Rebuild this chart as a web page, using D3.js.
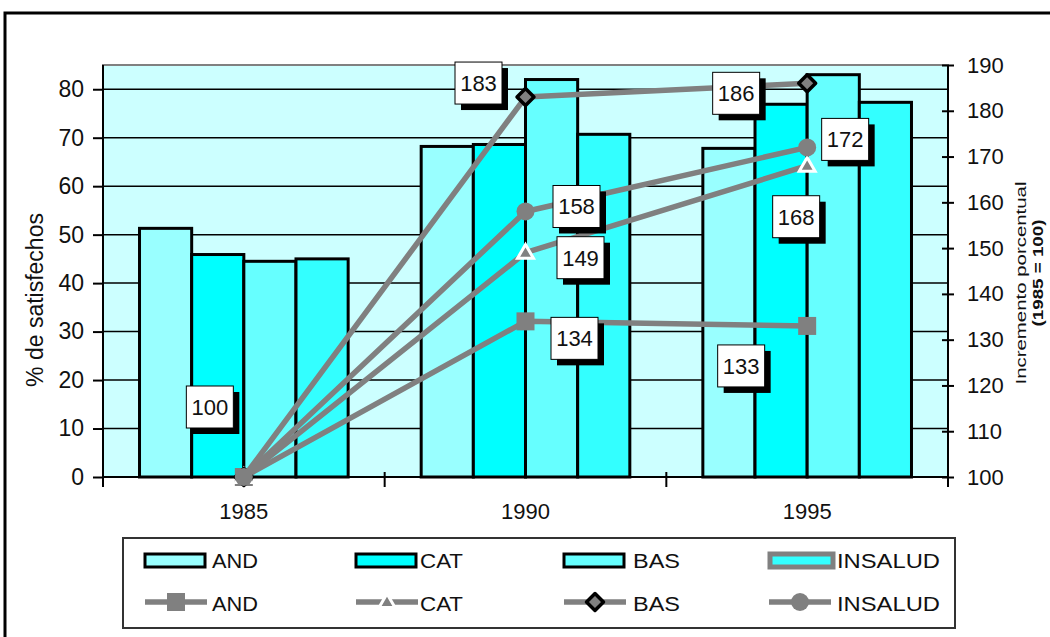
<!DOCTYPE html>
<html><head><meta charset="utf-8">
<script src="https://cdn.jsdelivr.net/npm/d3@7/dist/d3.min.js"></script>
<style>body{margin:0;background:#fff}svg{display:block}text{font-family:"Liberation Sans",Arial,sans-serif}</style>
</head><body>
<svg id="c" width="1050" height="637"></svg>
<script>
// ---- data ----
const years = ["1985", "1990", "1995"];
const barSeries = ["AND", "CAT", "BAS", "INSALUD"];
const barAND = [51.3, 68.2, 67.8];
const barCAT = [45.9, 68.6, 76.9];
const barBAS = [44.5, 82.0, 83.0];
const barINSALUD = [45.0, 70.7, 77.3];
const lineAND = [100, 134, 133];
const lineCAT = [100, 149, 168];
const lineBAS = [100, 183, 186];
const lineINSALUD = [100, 158, 172];
const leftTicks = [0, 10, 20, 30, 40, 50, 60, 70, 80];
const rightTicks = [100, 110, 120, 130, 140, 150, 160, 170, 180, 190];
const leftTitle = "% de satisfechos";
const rightTitle1 = "Incremento porcentual";
const rightTitle2 = "(1985 = 100)";

// ---- layout / style ----
const svg = d3.select("#c");
const P = {l: 103, r: 948, t: 65, b: 477};
const barColors = {AND: "#99ffff", CAT: "#00ffff", BAS: "#66ffff", INSALUD: "#33ffff"};
const gray = "#808080";
const barTable = barSeries.map(s => ({s, v: {AND: barAND, CAT: barCAT, BAS: barBAS, INSALUD: barINSALUD}[s]}));
const lineTable = [
  {s: "AND", v: lineAND}, {s: "CAT", v: lineCAT}, {s: "BAS", v: lineBAS}, {s: "INSALUD", v: lineINSALUD}
];
// label placements relative to points (layout only)
const labelLayout = [
  {s: "INSALUD", i: 0, dx: -34, dy: -70},
  {s: "BAS", i: 1, dx: -47, dy: -14},
  {s: "BAS", i: 2, dx: -71, dy: 10},
  {s: "INSALUD", i: 1, dx: 51, dy: -5},
  {s: "INSALUD", i: 2, dx: 38, dy: -8},
  {s: "CAT", i: 1, dx: 55, dy: 5},
  {s: "CAT", i: 2, dx: -11, dy: 51},
  {s: "AND", i: 1, dx: 49, dy: 17},
  {s: "AND", i: 2, dx: -66, dy: 40}
];

const yL = d3.scaleLinear().domain([0, 85]).range([P.b, P.t]);
const yR = d3.scaleLinear().domain([100, 190]).range([P.b, P.t]);
const x0 = d3.scaleBand().domain(years).range([P.l, P.r]).padding(0);
const x1 = d3.scaleBand().domain(barSeries).range([0, x0.bandwidth()]).paddingInner(0).paddingOuter(0.7);
const cx = y => x0(y) + x0.bandwidth() / 2;

// outer frame
svg.append("rect").attr("x", 5).attr("y", 13).attr("width", 1070).attr("height", 660)
  .attr("fill", "#fff").attr("stroke", "#000").attr("stroke-width", 3);

// plot area
svg.append("rect").attr("x", P.l).attr("y", P.t).attr("width", P.r - P.l).attr("height", P.b - P.t)
  .attr("fill", "#ccffff").attr("stroke", gray).attr("stroke-width", 2);

// gridlines
svg.append("g").selectAll("line").data(leftTicks.filter(d => d > 0)).join("line")
  .attr("x1", P.l).attr("x2", P.r).attr("y1", d => yL(d)).attr("y2", d => yL(d))
  .attr("stroke", "#000").attr("stroke-width", 1.5);

// bars
const gb = svg.append("g");
barTable.forEach(bs => {
  gb.selectAll(null).data(years).join("rect")
    .attr("x", (y) => x0(y) + x1(bs.s))
    .attr("y", (y, i) => yL(bs.v[i]))
    .attr("width", x1.bandwidth())
    .attr("height", (y, i) => yL(0) - yL(bs.v[i]))
    .attr("fill", barColors[bs.s]).attr("stroke", "#000").attr("stroke-width", 3);
});

// axes
const axL = d3.axisLeft(yL).tickValues(leftTicks).tickSize(10).tickPadding(9);
const gL = svg.append("g").attr("transform", `translate(${P.l},0)`).call(axL);
const axR = d3.axisRight(yR).tickValues(rightTicks).tickSize(6).tickPadding(13);
const gR = svg.append("g").attr("transform", `translate(${P.r},0)`).call(axR);
gR.selectAll(".tick line").attr("x1", -6);
const axX = d3.axisBottom(x0).tickSize(0).tickPadding(26);
const gX = svg.append("g").attr("transform", `translate(0,${P.b})`).call(axX);
[gL, gR, gX].forEach(g => {
  g.select(".domain").attr("stroke", "#000").attr("stroke-width", 2);
  g.selectAll(".tick line").attr("stroke", "#000").attr("stroke-width", 2);
  g.selectAll(".tick text").attr("font-size", 22).attr("fill", "#111")
    .attr("font-family", '"Liberation Sans",Arial,sans-serif');
});
gL.selectAll(".tick text").attr("font-size", 23);
gL.select(".domain").attr("d", `M0,${P.t}V${P.b + 10}`);
gR.select(".domain").attr("d", `M0,${P.t}V${P.b + 10}`);
gX.select(".domain").attr("d", `M${P.l},0H${P.r}`);
// category boundary ticks on x axis
svg.append("g").selectAll("line").data(years.slice(1)).join("line")
  .attr("x1", d => x0(d)).attr("x2", d => x0(d)).attr("y1", P.b - 5).attr("y2", P.b + 10)
  .attr("stroke", "#000").attr("stroke-width", 2);

// lines
const lineGen = d3.line().x((d, i) => cx(years[i])).y(d => yR(d));
const gLines = svg.append("g");
lineTable.forEach(ls => {
  gLines.append("path").attr("d", lineGen(ls.v)).attr("fill", "none")
    .attr("stroke", gray).attr("stroke-width", 5.5).attr("stroke-linejoin", "round");
});

function marker(g, s, x, y) {
  if (s === "AND") {
    g.append("rect").attr("x", x - 9).attr("y", y - 9).attr("width", 18).attr("height", 18).attr("fill", gray);
  } else if (s === "CAT") {
    g.append("path").attr("d", d3.symbol(d3.symbolTriangle, 110)()).attr("transform", `translate(${x},${y + 1})`)
      .attr("fill", gray).attr("stroke", "#fff").attr("stroke-width", 3);
  } else if (s === "BAS") {
    g.append("rect").attr("x", -6).attr("y", -6).attr("width", 12).attr("height", 12)
      .attr("transform", `translate(${x},${y}) rotate(45)`)
      .attr("fill", gray).attr("stroke", "#000").attr("stroke-width", 3.5).attr("stroke-linejoin", "round");
  } else {
    g.append("circle").attr("cx", x).attr("cy", y).attr("r", 9).attr("fill", gray);
  }
}
const gM = svg.append("g");
lineTable.forEach(ls => ls.v.forEach((v, i) => marker(gM, ls.s, cx(years[i]), yR(v))));

// data labels
const gLab = svg.append("g");
labelLayout.forEach(L => {
  const ls = lineTable.find(d => d.s === L.s);
  const v = ls.v[L.i];
  const px = cx(years[L.i]) + L.dx, py = yR(v) + L.dy;
  const w = 47, h = 42;
  gLab.append("rect").attr("x", px - w / 2 + 6).attr("y", py - h / 2 + 6).attr("width", w).attr("height", h).attr("fill", "#000");
  gLab.append("rect").attr("x", px - w / 2).attr("y", py - h / 2).attr("width", w).attr("height", h)
    .attr("fill", "#fff").attr("stroke", "#000").attr("stroke-width", 1);
  gLab.append("text").attr("x", px).attr("y", py + 8).attr("text-anchor", "middle")
    .attr("font-size", 22).attr("fill", "#111").text(v);
});

// axis titles
svg.append("text").attr("transform", "translate(43,300) rotate(-90)").attr("text-anchor", "middle")
  .attr("font-size", 23).attr("fill", "#111").text(leftTitle);
svg.append("text").attr("transform", "translate(1026,283) rotate(-90)").attr("text-anchor", "middle")
  .attr("font-size", 14).attr("fill", "#111").attr("textLength", 203).attr("lengthAdjust", "spacingAndGlyphs").text(rightTitle1);
svg.append("text").attr("transform", "translate(1043,273) rotate(-90)").attr("text-anchor", "middle")
  .attr("font-size", 15).attr("font-weight", "bold").attr("fill", "#111").attr("textLength", 107).attr("lengthAdjust", "spacingAndGlyphs").text(rightTitle2);

// legend
const lg = svg.append("g");
lg.append("rect").attr("x", 123).attr("y", 538).attr("width", 832).attr("height", 90)
  .attr("fill", "#fff").attr("stroke", "#333").attr("stroke-width", 2);
const colSw = [145, 356, 564, 769];
const colTx = [212, 420, 633, 837];
const txW = {AND: 46, CAT: 43, BAS: 47, INSALUD: 103};
barSeries.forEach((s, k) => {
  const isIns = s === "INSALUD";
  lg.append("rect").attr("x", colSw[k] + (isIns ? 1 : 0)).attr("y", 554).attr("width", isIns ? 63 : 60).attr("height", 13)
    .attr("fill", barColors[s]).attr("stroke", isIns ? gray : "#000").attr("stroke-width", isIns ? 5 : 3);
  lg.append("text").attr("x", colTx[k]).attr("y", 568).attr("font-size", 20).attr("fill", "#111")
    .attr("textLength", txW[s]).attr("lengthAdjust", "spacingAndGlyphs").text(s);
});
lineTable.forEach((ls, k) => {
  lg.append("line").attr("x1", colSw[k]).attr("x2", colSw[k] + 62).attr("y1", 602).attr("y2", 602)
    .attr("stroke", gray).attr("stroke-width", 5.5);
  marker(lg, ls.s, colSw[k] + 31, 602);
  lg.append("text").attr("x", colTx[k]).attr("y", 611).attr("font-size", 20).attr("fill", "#111")
    .attr("textLength", txW[ls.s]).attr("lengthAdjust", "spacingAndGlyphs").text(ls.s);
});
</script>
</body></html>
